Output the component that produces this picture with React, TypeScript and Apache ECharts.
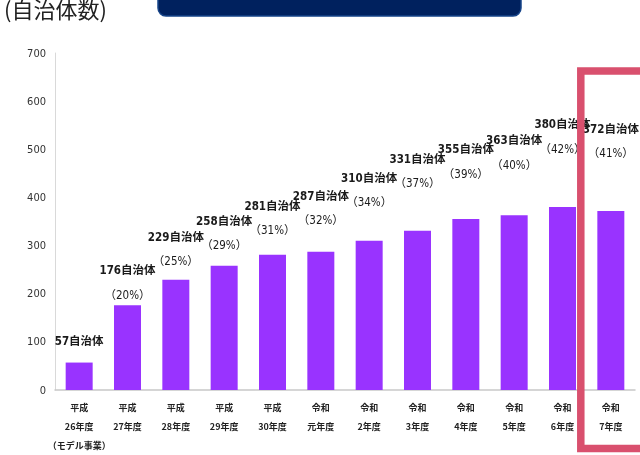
import React, { useEffect, useRef } from "react";
import * as echarts from "echarts";

const categories = [
  "平成\n26年度\n（モデル事業）",
  "平成\n27年度",
  "平成\n28年度",
  "平成\n29年度",
  "平成\n30年度",
  "令和\n元年度",
  "令和\n2年度",
  "令和\n3年度",
  "令和\n4年度",
  "令和\n5年度",
  "令和\n6年度",
  "令和\n7年度",
];
const counts = [57, 176, 229, 258, 281, 287, 310, 331, 355, 363, 380, 372];
const percents = ["", "20%", "25%", "29%", "31%", "32%", "34%", "37%", "39%", "40%", "42%", "41%"];
// distance (px) from bar top to centre of first label line
const labelGaps = [22, 35, 43, 45, 49, 56, 63, 72, 70, 75, 83, 82];
const yTicks = [0, 700, 100];

const FONT = "'Noto Sans CJK JP', 'Noto Sans', sans-serif";
const NUMFONT = "'DejaVu Sans Condensed', 'Noto Sans CJK JP', sans-serif";

export default function App() {
  const ref = useRef<HTMLDivElement>(null);
  useEffect(() => {
    if (!ref.current) return;
    const chart = echarts.init(ref.current, null, { renderer: "svg" });
    const LH1 = 29;
    const LH2 = 20;
    const data = counts.map((v, i) => {
      const hasPct = percents[i] !== "";
      const boxH = hasPct ? LH1 + LH2 : LH1;
      const firstCenterFromBottom = boxH - LH1 / 2;
      return {
        value: v,
        label: {
          distance: labelGaps[i] - firstCenterFromBottom,
        },
      };
    });
    chart.setOption({
      animation: false,
      grid: { left: 55, right: 5, top: 53, bottom: 59, containLabel: false },
      xAxis: {
        type: "category",
        data: categories,
        axisLine: { show: true, lineStyle: { color: "#c8c8c8", width: 1.5 } },
        axisTick: { show: false },
        axisLabel: {
          interval: 0,
          margin: 8,
          fontSize: 9,
          fontWeight: "bold",
          color: "#222",
          lineHeight: 19,
          fontFamily: FONT,
        },
      },
      yAxis: {
        type: "value",
        min: yTicks[0],
        max: yTicks[1],
        interval: yTicks[2],
        axisLine: { show: true, lineStyle: { color: "#d9d9d9", width: 1 } },
        axisTick: { show: false },
        splitLine: { show: false },
        axisLabel: { fontSize: 11, color: "#333", margin: 9, fontFamily: NUMFONT },
      },
      series: [
        {
          type: "bar",
          data,
          barWidth: 27,
          itemStyle: { color: "#9933ff" },
          label: {
            show: true,
            position: "top",
            formatter: (p: any) => {
              const pct = percents[p.dataIndex];
              return pct ? `{a|${p.value}自治体}\n{b|（${pct}）}` : `{a|${p.value}自治体}`;
            },
            rich: {
              a: { fontSize: 11.5, fontWeight: "bold", color: "#1a1a1a", lineHeight: LH1, fontFamily: NUMFONT },
              b: { fontSize: 11.5, fontWeight: "normal", color: "#1a1a1a", lineHeight: LH2, fontFamily: NUMFONT },
            },
          },
        },
      ],
      graphic: [
        {
          type: "text",
          x: 4,
          y: 8,
          z: 10,
          style: {
            text: "(自治体数)",
            fontSize: 22,
            fill: "#222",
            fontFamily: FONT,
            verticalAlign: "middle",
          },
        },
        {
          type: "rect",
          z: 10,
          shape: { x: 158, y: -20, width: 363, height: 36, r: 8 },
          style: { fill: "#00215e", stroke: "#164489", lineWidth: 1.5 },
        },
        {
          type: "rect",
          z: 20,
          shape: { x: 580.8, y: 71, width: 120, height: 377.5 },
          style: { fill: "none", stroke: "#d9506e", lineWidth: 7.5 },
        },
      ],
    });
    return () => chart.dispose();
  }, []);
  return (
    <div
      ref={ref}
      style={{ position: "fixed", left: 0, top: 0, width: 640, height: 455 }}
    />
  );
}
